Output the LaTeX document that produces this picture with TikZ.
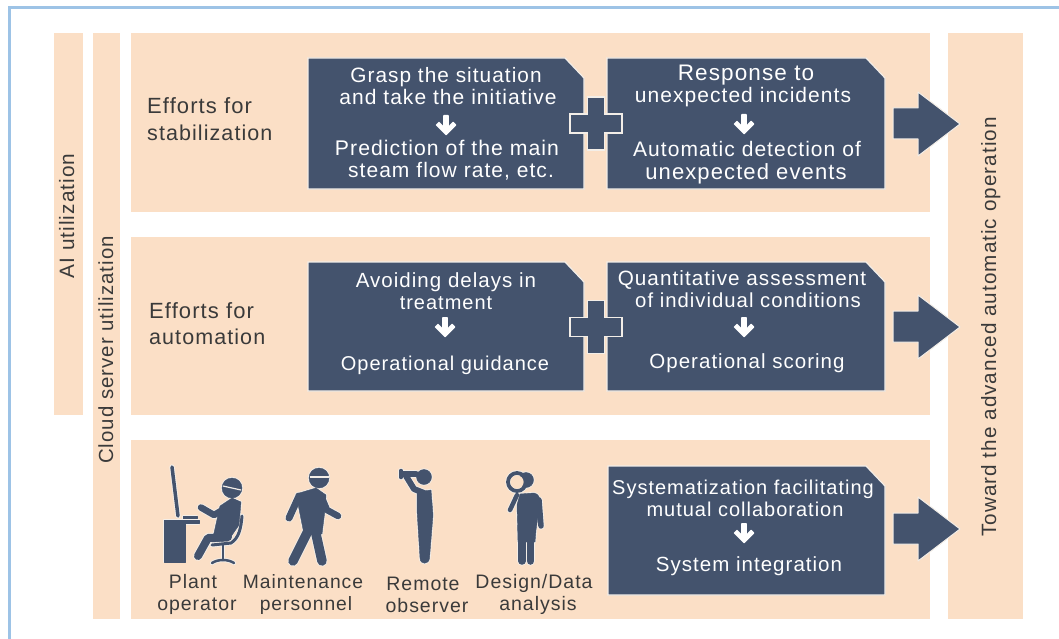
\documentclass[tikz,border=0pt]{standalone}
\usepackage{fontspec}
\setmainfont[LetterSpace=5]{Liberation Sans}
\definecolor{band}{HTML}{FBDFC6}
\definecolor{ink}{HTML}{44536D}
\definecolor{halo}{HTML}{F3EEE8}
\definecolor{txt}{HTML}{3A3A3A}
\definecolor{frameblue}{HTML}{9DC3E6}
\tikzset{
  bandbox/.style={fill=band,draw=none},
  panel/.style={fill=ink,draw=halo,line width=1.2pt,line join=miter},
  blockarrow/.style={fill=ink,draw=halo,line width=1pt,line join=round},
  t/.style={inner sep=0pt,font=\fontsize{20.5}{22}\selectfont,text height=16pt,text depth=2pt},
  fs/.style={font=\fontsize{#1}{#1}\selectfont},
  wt/.style={t,text=white},
  dt/.style={t,text=txt},
  st/.style={draw=pen,line width=#1pt+\haloextra,line cap=round,line join=round},
  sh/.style={fill=pen,draw=pen,line width=\haloextra+0.4pt,line join=round},
}
\newcommand{\cutbox}[5]{% name,x1,y1,x2,y2
  \draw[panel] (#2,#3) -- (#4-19,#3) -- (#4,#3+20) -- (#4,#5) -- (#2,#5) -- cycle;
  \coordinate (#1) at ({(#2+#4)/2},{(#3+#5)/2});}
\newcommand{\plusmark}[2]{%
  \draw[panel] (#1-8.5,#2-26.5) -- (#1+8.5,#2-26.5) -- (#1+8.5,#2-9.5) -- (#1+26,#2-9.5) -- (#1+26,#2+9.5) -- (#1+8.5,#2+9.5) -- (#1+8.5,#2+26.5) -- (#1-8.5,#2+26.5) -- (#1-8.5,#2+9.5) -- (#1-26,#2+9.5) -- (#1-26,#2-9.5) -- (#1-8.5,#2-9.5) -- cycle;}
\newcommand{\bigarrow}[1]{%
  \draw[blockarrow] (893,#1-16) -- (918,#1-16) -- (918,#1-32) -- (960,#1) -- (918,#1+32) -- (918,#1+15) -- (893,#1+15) -- cycle;}
\newcommand{\whitearrow}[2]{%
  \fill[white,rounded corners=0.6pt] (#1-2.8,#2-10) -- (#1+2.8,#2-10) -- (#1+2.8,#2+1) -- (#1+7,#2-3.5) -- (#1+10.5,#2) -- (#1,#2+10.5) -- (#1-10.5,#2) -- (#1-7,#2-3.5) -- (#1-2.8,#2+1) -- cycle;}
\newcommand{\figures}{%
  % plant operator
  \draw[st=3.5] (172,467) -- (178,516);
  \path[sh] (164,520) rectangle (185,562);
  \path[sh] (185,520) rectangle (199,523.5);
  \path[sh] (183,516.5) rectangle (197,518.5);
  \path[sh] (232,488) circle (10);
  \path[sh] (220,506) -- (232,498) -- (241,502) -- (239,525) -- (228,541) -- (212,542) -- cycle;
  \draw[st=6.5] (231,505) -- (214,515) -- (201,507.5);
  \draw[st=8] (228,537) -- (208,538) -- (198,556);
  \draw[st=3] (242,516) .. controls (241,528) and (239,538) .. (231,543) -- (212,545);
  \draw[st=2.5] (223,545) -- (223,560);
  \draw[st=2.5] (212,563) .. controls (218,559) and (228,559) .. (234,563);
  % maintenance personnel
  \path[sh] (319,478) circle (10);
  \path[sh] (296,494) -- (316,488) -- (326,495) -- (325,510) -- (322,534) -- (304,534) -- cycle;
  \draw[st=7] (299,496) -- (289,518);
  \draw[st=6.5] (322,498) -- (327,510) -- (338,516);
  \draw[st=9.5] (311,525) -- (293,561);
  \draw[st=9.5] (314,525) -- (322,561);
  % remote observer
  \path[sh] (424,477) circle (7.5);
  \draw[st=6.5] (403,474) -- (416,474);
  \draw[st=3.5] (401,470.5) -- (401,477.5);
  \draw[st=6] (406,476) -- (414,489) -- (424,493);
  \path[sh] (417,492) -- (431,490) -- (433,515) -- (429.5,558) .. controls (429,565) and (420,565) .. (420,558) -- (417,510) -- cycle;
  % design / data analysis
  \path[sh] (526,480) circle (7.5);
  \path[sh] (520,494) -- (534,493) .. controls (539,494) and (540,498) .. (540,503) -- (536,530) -- (535,542) -- (518,542) -- (517,505) -- cycle;
  \draw[st=5.5] (539,500) -- (541,526);
  \draw[st=7.5] (522,535) -- (522,561);
  \draw[st=7.5] (530.5,535) -- (530.5,561);
  \draw[st=4.5] (517,495) -- (510,510);
  \draw[st=3.8] (517,482) circle (9);
}
\begin{document}
\begin{tikzpicture}[x=1pt,y=-1pt]
\useasboundingbox (0,0) rectangle (1059,639);
\fill[white] (0,0) rectangle (1059,639);
\fill[frameblue] (8,6) rectangle (1059,9);
\fill[frameblue] (8,6) rectangle (11,639);
% bands
\path[bandbox] (54,33) rectangle (83,415);
\path[bandbox] (93,33) rectangle (120,619);
\path[bandbox] (131,33) rectangle (930,212);
\path[bandbox] (131,237) rectangle (930,415);
\path[bandbox] (131,440) rectangle (930,619);
\path[bandbox] (948,33) rectangle (1023,619);
% rotated labels
\node[dt,rotate=90,fs=20.8] (ai) at (67,216) {AI utilization};
\node[dt,rotate=90,fs=20.4] (cloud) at (106,350) {Cloud server utilization};
\node[dt,rotate=90,fs=20.7] (toward) at (989,327) {Toward the advanced automatic operation};
% left labels
\node[dt,anchor=west,fs=22] (e1a) at (147,107) {Efforts for};
\node[dt,anchor=west,fs=21.5] (e1b) at (147,134) {stabilization};
\node[dt,anchor=west,fs=22] (e2a) at (149,311) {Efforts for};
\node[dt,anchor=west,fs=21.5] (e2b) at (149,337) {automation};
% panels
\cutbox{b1}{308}{58}{584}{189}
\cutbox{b2}{607}{58}{885}{189}
\plusmark{596}{123.5}
\cutbox{b3}{308}{262}{584}{391}
\cutbox{b4}{607}{262}{885}{391}
\plusmark{596}{327}
\cutbox{b5}{608}{466}{885}{595}
\bigarrow{124}
\bigarrow{327}
\bigarrow{529}
% panel text
\node[wt,fs=20.8] (t1) at (446,76) {Grasp the situation};
\node[wt,fs=21] (t2) at (448,98) {and take the initiative};
\whitearrow{446}{125}
\node[wt,fs=21.2] (t3) at (447,149) {Prediction of the main};
\node[wt,fs=21] (t4) at (451,171) {steam flow rate, etc.};
\node[wt,fs=22.5] (t5) at (746,74) {Response to};
\node[wt,fs=21] (t6) at (743,96) {unexpected incidents};
\whitearrow{744}{124}
\node[wt,fs=21] (t7) at (747,150) {Automatic detection of};
\node[wt,fs=22] (t8) at (746,172) {unexpected events};
\node[wt] (t9) at (446,280) {Avoiding delays in};
\node[wt,fs=20] (t10) at (446,302) {treatment};
\whitearrow{445}{327}
\node[wt,fs=20] (t11) at (445,363) {Operational guidance};
\node[wt,fs=20.7] (t12) at (742,278) {Quantitative assessment};
\node[wt,fs=20.3] (t13) at (748,300) {of individual conditions};
\whitearrow{744}{327}
\node[wt,fs=20.5] (t14) at (747,361) {Operational scoring};
\node[wt,fs=20] (t15) at (743,487) {Systematization facilitating};
\node[wt,fs=20] (t16) at (745,509) {mutual collaboration};
\whitearrow{744}{533}
\node[wt,fs=20.5] (t17) at (749,564) {System integration};
% pictograms
\colorlet{pen}{halo}\def\haloextra{1.8pt}
\figures
\colorlet{pen}{ink}\def\haloextra{0pt}
\figures
% goggle bands and magnifier interior
\draw[halo,line width=1.2pt] (223,486) -- (241,490);
\draw[halo,line width=1.2pt] (310,477) -- (329,477);
\fill[band] (517,482) circle (6.6);
% role labels
\node[dt,fs=19.5] (p1) at (193,581) {Plant};
\node[dt,fs=19.5] (p2) at (197,603) {operator};
\node[dt,fs=19.3] (p3) at (303,581) {Maintenance};
\node[dt,fs=19.3] (p4) at (306,603) {personnel};
\node[dt,fs=19.5] (p5) at (423,583) {Remote};
\node[dt,fs=19.5] (p6) at (427,605) {observer};
\node[dt,fs=19.5] (p7) at (534,581) {Design/Data};
\node[dt,fs=19.5] (p8) at (538,603) {analysis};
\end{tikzpicture}
\end{document}
